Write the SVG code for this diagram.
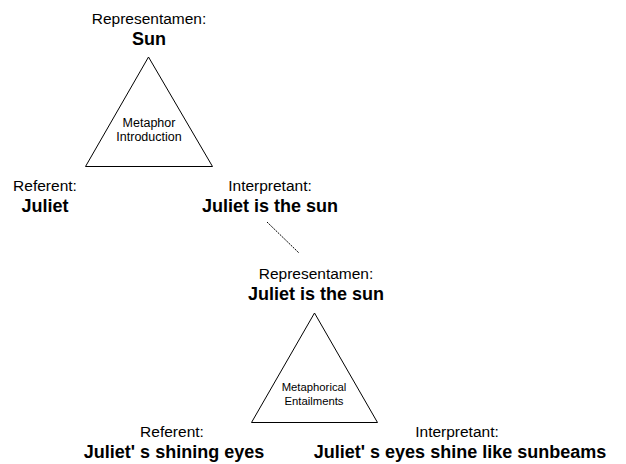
<svg xmlns="http://www.w3.org/2000/svg" width="626" height="464" viewBox="0 0 626 464">
<style>
.lbl{font-family:"Liberation Sans",Arial,sans-serif;font-size:15.5px;fill:#000;text-anchor:middle}
.val{font-family:"Liberation Sans",Arial,sans-serif;font-size:18px;font-weight:bold;fill:#000;text-anchor:middle}
.small1{font-family:"Liberation Sans",Arial,sans-serif;font-size:12.5px;fill:#000;text-anchor:middle}
.small2{font-family:"Liberation Sans",Arial,sans-serif;font-size:11.3px;fill:#000;text-anchor:middle}
.tri{fill:none;stroke:#000;stroke-width:1}
.conn{fill:none;stroke:#000;stroke-width:1;stroke-dasharray:2,1}
</style>
<rect width="626" height="464" fill="#fff"/>
<g id="triangle1">
<polygon class="tri" points="148.5,57 85.5,166.5 212.5,166.5"/>
<text class="small1" x="149" y="127">Metaphor</text>
<text class="small1" x="149" y="141">Introduction</text>
</g>
<g id="rep1">
<text class="lbl" x="149" y="24">Representamen:</text>
<text class="val" x="149" y="45">Sun</text>
</g>
<g id="ref1">
<text class="lbl" x="45" y="191">Referent:</text>
<text class="val" x="45" y="212">Juliet</text>
</g>
<g id="int1">
<text class="lbl" x="270" y="191">Interpretant:</text>
<text class="val" x="270" y="212">Juliet is the sun</text>
</g>
<g id="connectors">
<line class="conn" x1="267" y1="222" x2="299" y2="253"/>
</g>
<g id="triangle2">
<polygon class="tri" points="314.5,313 251.5,422.5 377.5,422.5"/>
<text class="small2" x="314" y="391">Metaphorical</text>
<text class="small2" x="314" y="405">Entailments</text>
</g>
<g id="rep2">
<text class="lbl" x="316" y="279">Representamen:</text>
<text class="val" x="316" y="300">Juliet is the sun</text>
</g>
<g id="ref2">
<text class="lbl" x="172" y="437">Referent:</text>
<text class="val" x="174" y="458">Juliet' s shining eyes</text>
</g>
<g id="int2">
<text class="lbl" x="457" y="437">Interpretant:</text>
<text class="val" x="460" y="458">Juliet' s eyes shine like sunbeams</text>
</g>
</svg>
